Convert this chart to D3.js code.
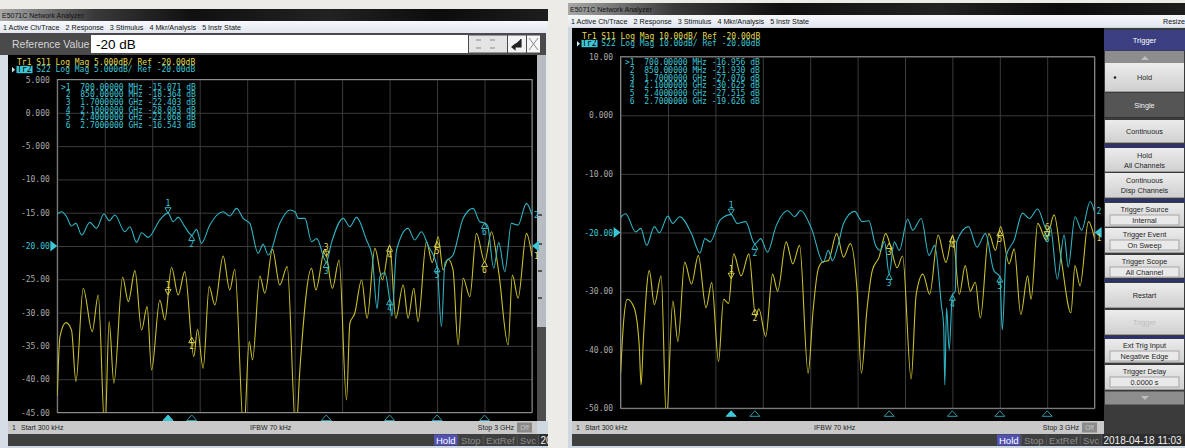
<!DOCTYPE html>
<html><head><meta charset="utf-8">
<script src="https://cdn.jsdelivr.net/npm/d3@7"></script>
<style>html,body{margin:0;padding:0;background:#e9e7e1;overflow:hidden}svg{display:block}</style>
</head><body><svg id="c" width="1185" height="448"></svg>
<script>
// ---- sweep / marker settings ----
const freqStartMHz = 0.3, freqStopMHz = 3000;
const markerFreqs = [700, 850, 1700, 2100, 2400, 2700];
const markerStim = ["700.00000 MHz", "850.00000 MHz", "1.7000000 GHz", "2.1000000 GHz", "2.4000000 GHz", "2.7000000 GHz"];
const leftMarkerDb = [-15.071, -18.364, -22.403, -28.003, -23.068, -16.543];
const rightMarkerDb = [-16.956, -21.930, -27.076, -30.625, -27.515, -19.626];

// ---- y-axis ticks ----
const leftTicks = [5, 0, -5, -10, -15, -20, -25, -30, -35, -40, -45];
const leftTickText = ["5.000", "0.000", "-5.000", "-10.00", "-15.00", "-20.00", "-25.00", "-30.00", "-35.00", "-40.00", "-45.00"];
const rightTicks = [10, 0, -10, -20, -30, -40, -50];
const rightTickText = ["10.00", "0.000", "-10.00", "-20.00", "-30.00", "-40.00", "-50.00"];

// ---- traces: [MHz, dB] ----
const leftS11 = [[0.3,-42.5],[17,-33.6],[55,-31.5],[90,-32.6],[118,-40.35],[164,-26.35],[221,-32.85],[259,-27.35],[301,-48],[328,-31.35],[358,-40.6],[413,-24.7],[449,-28.35],[491,-23.7],[533,-32.6],[568,-29.1],[596,-38.6],[648,-28.1],[680,-31.1],[722,-23.2],[764,-27.35],[806,-23.85],[863,-36.6],[886,-32.5],[922,-38.35],[960,-26.1],[996,-28.85],[1048,-21.5],[1090,-26.6],[1122,-23.5],[1179,-48],[1213,-34.35],[1234,-37.1],[1280,-24.5],[1312,-27.1],[1360,-20.5],[1406,-25.85],[1453,-23.1],[1508,-48],[1533,-38.6],[1607,-23.35],[1634,-26.6],[1691,-20.5],[1739,-26.35],[1781,-22.1],[1828,-43.1],[1849,-31.6],[1880,-30.1],[1923,-25.1],[1958,-30.85],[2007,-20.35],[2055,-25.1],[2101,-19.85],[2139,-30.85],[2186,-25.85],[2217,-30.85],[2253,-26.35],[2280,-31.35],[2333,-19.35],[2370,-22.5],[2407,-18.6],[2438,-23.6],[2470,-22.0],[2501,-23.6],[2533,-34.85],[2565,-24.85],[2607,-27.6],[2649,-18.1],[2701,-22.35],[2744,-17.85],[2790,-24.0],[2849,-34.85],[2876,-24.35],[2912,-27.85],[2965,-18.1],[3000,-21.6]];
const leftS22 = [[0.3,-15.2],[27,-14.85],[59,-15.6],[90,-17.0],[118,-16.6],[154,-18.35],[206,-16.45],[248,-17.35],[295,-15.2],[328,-16.2],[364,-15.35],[427,-17.85],[459,-17.1],[501,-19.45],[533,-18.0],[575,-18.7],[648,-16.1],[733,-16.35],[764,-15.7],[806,-17.1],[880,-17.5],[911,-19.6],[964,-16.85],[1048,-14.85],[1090,-15.5],[1133,-14.35],[1175,-15.85],[1217,-16.6],[1269,-21.1],[1301,-19.75],[1333,-21.35],[1406,-16.6],[1469,-14.6],[1502,-14.85],[1523,-15.85],[1565,-15.85],[1607,-19.35],[1640,-18.9],[1733,-19.5],[1807,-15.85],[1849,-17.1],[1891,-15.7],[1954,-19.1],[1990,-21.5],[2021,-29.4],[2040,-24.5],[2070,-24.0],[2115,-30.5],[2144,-20.6],[2217,-17.35],[2259,-19.1],[2301,-17.85],[2345,-20.0],[2428,-32.1],[2450,-22.5],[2501,-21.35],[2565,-15.85],[2628,-14.35],[2670,-16.35],[2720,-17.0],[2758,-23.35],[2790,-19.5],[2828,-23.85],[2870,-16.6],[2912,-16.85],[2965,-13.6],[3000,-15.35]];
const rightS11 = [[0.3,-44],[20,-35],[43,-31.4],[86,-32.85],[118,-39.2],[130,-46],[145,-38],[182,-26.5],[214,-32.3],[257,-27.4],[290,-52],[331,-31.7],[363,-38.6],[406,-25.05],[449,-28.8],[492,-23.9],[541,-32.85],[577,-28.55],[620,-42],[652,-31.4],[684,-32.1],[716,-23.65],[763,-27.4],[812,-23.65],[855,-34.3],[875,-33],[919,-37.75],[962,-27.1],[994,-30.0],[1048,-21.6],[1090,-25.35],[1133,-22.2],[1187,-44],[1219,-33.15],[1251,-26.2],[1280,-25],[1315,-24.8],[1368,-20.2],[1411,-24.2],[1454,-21.9],[1497,-30.0],[1524,-44],[1560,-33],[1593,-26.5],[1636,-24.2],[1678,-20.2],[1710,-22.5],[1750,-26],[1785,-24],[1839,-45],[1871,-30.55],[1914,-27.1],[1956,-30.55],[2010,-20.45],[2059,-25.1],[2102,-20.45],[2144,-30.55],[2181,-25.65],[2213,-30.0],[2245,-28.5],[2277,-34.6],[2331,-20.2],[2373,-23.05],[2405,-19.0],[2459,-25.35],[2491,-22.8],[2533,-34.0],[2576,-27.4],[2598,-31.4],[2640,-18.45],[2694,-21.3],[2744,-17.0],[2790,-24.8],[2850,-33.7],[2876,-25.65],[2908,-29.1],[2961,-18.15],[3000,-21.05]];
const rightS22 = [[0.3,-17.4],[32,-16.8],[96,-19.9],[128,-19.3],[165,-22.2],[214,-19.0],[246,-20.05],[299,-17.2],[331,-18.45],[374,-17.3],[449,-20.2],[502,-23.5],[534,-21.05],[567,-21.6],[631,-17.85],[738,-18.45],[791,-18.15],[887,-21.05],[930,-23.35],[983,-19.0],[1058,-16.3],[1101,-17.3],[1140,-16.25],[1208,-19.3],[1283,-25.1],[1315,-23.05],[1341,-24.8],[1379,-21.9],[1411,-18.45],[1482,-16.4],[1529,-18.15],[1571,-18.0],[1614,-22.2],[1646,-23.05],[1670,-21.5],[1712,-29],[1732,-21.6],[1764,-23.05],[1817,-17.75],[1849,-19.6],[1903,-17.6],[1952,-23.9],[1988,-22.2],[2031,-32.55],[2045,-36],[2052,-46],[2063,-32.85],[2080,-40],[2090,-35],[2106,-52],[2118,-30],[2127,-21.6],[2202,-19.0],[2256,-22.5],[2309,-20.2],[2362,-26.5],[2416,-36.6],[2440,-24],[2491,-21.3],[2544,-16.7],[2587,-17.6],[2640,-16.0],[2720,-19],[2764,-27.95],[2807,-20.45],[2833,-25.9],[2876,-17.3],[2918,-19.6],[2972,-14.7],[3000,-16.5]];

// ---- UI text ----
const menuItems = ["1 Active Ch/Trace", "2 Response", "3 Stimulus", "4 Mkr/Analysis", "5 Instr State"];
const statusItems = ["Hold", "Stop", "ExtRef", "Svc"];
const dateText = "2018-04-18 11:03";
const softkeys = [
  {lines: ["Hold"], style: "sel"},
  {lines: ["Single"], style: "dark"},
  {lines: ["Continuous"]},
  {lines: ["Hold", "All Channels"]},
  {lines: ["Continuous", "Disp Channels"]},
  {lines: ["Trigger Source"], value: "Internal"},
  {lines: ["Trigger Event"], value: "On Sweep"},
  {lines: ["Trigger Scope"], value: "All Channel"},
  {lines: ["Restart"]},
  {lines: ["Trigger"], style: "disabled"},
  {lines: ["Ext Trig Input"], value: "Negative Edge"},
  {lines: ["Trigger Delay"], value: "0.0000 s"}
];

const CYAN = "#2fb3c4", CYAN_TXT = "#3cc6d6", YEL = "#c9c02a", YEL_TXT = "#e4dc50";
const MONO = "'DejaVu Sans Mono','Liberation Mono',monospace";
const SANS = "'Liberation Sans',Arial,sans-serif";

const svg = d3.select("#c");
const defs = svg.append("defs");
function grad(id, stops, vertical) {
  const lg = defs.append("linearGradient").attr("id", id)
    .attr("x1", 0).attr("y1", 0).attr("x2", vertical ? 0 : 1).attr("y2", vertical ? 1 : 0);
  stops.forEach(s => lg.append("stop").attr("offset", s[0]).attr("stop-color", s[1]));
}
grad("titleG", [[0, "#a9a9a9"], [0.17, "#3a3a3a"], [0.35, "#101010"], [0.6, "#222"], [0.8, "#0c0c0c"], [1, "#1d1d1d"]]);
grad("menuG", [[0, "#f6f8fb"], [1, "#e2e7ef"]], true);
grad("btnG", [[0, "#ececec"], [1, "#cfcfcf"]], true);

function rect(g, x, y, w, h, fill, stroke) {
  const r = g.append("rect").attr("x", x).attr("y", y).attr("width", w).attr("height", h).attr("fill", fill);
  if (stroke) r.attr("stroke", stroke).attr("stroke-width", 1);
  return r;
}
function txt(g, x, y, s, o = {}) {
  return g.append("text").attr("x", x).attr("y", y).text(s)
    .attr("font-family", o.ff || SANS).attr("font-size", o.fs || 8)
    .attr("fill", o.fill || "#000").attr("text-anchor", o.anchor || "start")
    .attr("dominant-baseline", "central").attr("font-weight", o.fw || "normal")
    .style("white-space", "pre");
}

rect(svg, 0, 0, 1185, 448, "#ecebe5");

// merge the marker readouts into the trace they belong to
function withMarkers(trace, dbs) {
  const pts = trace.filter(p => markerFreqs.every(f => Math.abs(p[0] - f) > 12));
  markerFreqs.forEach((f, i) => pts.push([f, dbs[i]]));
  return pts.sort((a, b) => a[0] - b[0]);
}
function valueAt(trace, f) {
  const i = d3.bisector(d => d[0]).left(trace, f);
  if (i <= 0) return trace[0][1];
  const a = trace[i - 1], b = trace[i];
  return a[1] + (b[1] - a[1]) * (f - a[0]) / (b[0] - a[0]);
}

// ---------- one measurement display ----------
function drawPlot(P) {
  const g = svg.append("g");
  const x = d3.scaleLinear().domain([freqStartMHz, freqStopMHz]).range([P.x0, P.x1]);
  const y = d3.scaleLinear().domain([P.ticks[P.ticks.length - 1], P.ticks[0]]).range([P.y1, P.y0]);

  // header lines
  txt(g, P.hx, P.hy, "Tr1 S11 Log Mag " + P.scaleText + "/ Ref -20.00dB", {ff: MONO, fs: 8, fill: YEL_TXT});
  g.append("path").attr("d", `M${P.hx - 5},${P.hy + 5}l3,2.7l-3,2.7z`).attr("fill", "#bfeff5");
  rect(g, P.hx - 0.5, P.hy + 3.8, 16, 7.4, CYAN_TXT);
  txt(g, P.hx, P.hy + 7.6, "Tr2", {ff: MONO, fs: 8, fill: "#000"});
  txt(g, P.hx + 4 * 4.82, P.hy + 7.6, "S22 Log Mag " + P.scaleText + "/ Ref -20.00dB", {ff: MONO, fs: 8, fill: CYAN_TXT});

  // grid through axes
  const yAx = g.append("g").attr("transform", `translate(${P.x0},0)`)
    .call(d3.axisLeft(y).tickValues(P.ticks).tickSize(-(P.x1 - P.x0)).tickPadding(7.5)
      .tickFormat((d, i) => P.tickText[i]));
  yAx.select(".domain").remove();
  yAx.selectAll("line").attr("stroke", "#3b3b3b");
  yAx.selectAll("text").attr("font-family", MONO).attr("font-size", 8)
    .attr("fill", d => d === -20 ? CYAN_TXT : "#a9a9a9");
  const vTicks = d3.range(11).map(i => freqStartMHz + (freqStopMHz - freqStartMHz) * i / 10);
  const xAx = g.append("g").attr("transform", `translate(0,${P.y1})`)
    .call(d3.axisBottom(x).tickValues(vTicks).tickSize(-(P.y1 - P.y0)).tickFormat(""));
  xAx.select(".domain").remove();
  xAx.selectAll("line").attr("stroke", "#3b3b3b");
  rect(g, P.x0, P.y0, P.x1 - P.x0, P.y1 - P.y0, "none", "#8e8e8e");

  // reference level arrows
  const yr = y(-20);
  g.append("path").attr("d", `M${P.x0 - 7},${yr - 5.5}L${P.x0},${yr}L${P.x0 - 7},${yr + 5.5}Z`).attr("fill", CYAN_TXT);
  g.append("path").attr("d", `M${P.x1 + 7},${yr - 5.5}L${P.x1},${yr}L${P.x1 + 7},${yr + 5.5}Z`).attr("fill", CYAN_TXT);

  // traces
  const clipId = "clip" + P.id;
  defs.append("clipPath").attr("id", clipId).append("rect")
    .attr("x", P.x0).attr("y", P.y0).attr("width", P.x1 - P.x0).attr("height", P.y1 - P.y0);
  const line = d3.line().x(d => x(d[0])).y(d => y(d[1])).curve(d3.curveMonotoneX);
  const s22 = withMarkers(P.s22, P.mkDb);
  const tg = g.append("g").attr("clip-path", `url(#${clipId})`);
  tg.append("path").datum(P.s11).attr("d", line).attr("fill", "none").attr("stroke", YEL).attr("stroke-width", 1.1);
  tg.append("path").datum(s22).attr("d", line).attr("fill", "none").attr("stroke", CYAN).attr("stroke-width", 1.1);

  // trace end labels
  txt(g, P.x1 + 2, y(P.s11[P.s11.length - 1][1]), "1", {ff: MONO, fs: 8, fill: YEL_TXT});
  txt(g, P.x1 + 2, y(s22[s22.length - 1][1]), "2", {ff: MONO, fs: 8, fill: CYAN_TXT});

  // markers on traces: the active marker sits above its point, the others hang below
  markerFreqs.forEach((f, i) => {
    const px = x(f);
    const cyV = y(P.mkDb[i]);
    const yeV = y(valueAt(P.s11, f));
    const above = i === 0;
    const cyLab = above ? cyV - 9.5 : cyV + 9.5;
    let yeAbove = above;
    let yeLab = yeAbove ? yeV - 9.5 : yeV + 9.5;
    if (Math.abs(yeLab - cyLab) < 9) { yeAbove = !yeAbove; yeLab = yeAbove ? yeV - 9.5 : yeV + 9.5; }
    [[cyV, above, cyLab, CYAN_TXT], [yeV, yeAbove, yeLab, YEL_TXT]].forEach(([py, up, ly, col]) => {
      const d = up ? `M${px},${py}l-3,-5.5h6z` : `M${px},${py}l-3,5.5h6z`;
      g.append("path").attr("d", d).attr("fill", "none").attr("stroke", col).attr("stroke-width", 0.9);
      txt(g, px, ly, String(i + 1), {ff: MONO, fs: 8, fill: col, anchor: "middle"});
    });
    // stimulus markers beneath the grid
    const by = P.y1 + 2.5;
    g.append("path").attr("d", `M${px},${by}l-5,5.5h10z`)
      .attr("fill", i === 0 ? CYAN_TXT : "none").attr("stroke", i === 0 ? CYAN_TXT : "#2a9aa8").attr("stroke-width", 1);
  });

  // marker readout table
  markerStim.forEach((s, i) => {
    const ry = P.ty + i * 7.67;
    const tag = (i === 0 ? ">" : " ") + (i + 1);
    txt(g, P.tx, ry, tag + "  " + s + " " + P.mkDb[i].toFixed(3) + " dB", {ff: MONO, fs: 8, fill: CYAN_TXT});
  });
}

// ---------- window chrome ----------
function chrome(W) {
  const g = svg.append("g");
  rect(g, W.x0, W.top, W.x1 - W.x0, 448 - W.top, "#cfd7e1");
  rect(g, W.x0, W.top, W.x1 - W.x0, 12, "url(#titleG)");
  txt(g, W.x0 + 2, W.top + 6, "E5071C Network Analyzer", {fs: 7, fill: "#111"});
  rect(g, W.x0, W.top + 12, W.x1 - W.x0, 12, "url(#menuG)");
  let mx = W.x0 + 3;
  menuItems.forEach(m => {
    const t = txt(g, mx, W.top + 18.5, m, {fs: 7.2, fill: "#111"});
    mx += t.node().getComputedTextLength() + 6;
  });
  if (W.resize) txt(g, 1185, W.top + 18.5, "Resize", {fs: 7.2, fill: "#111", anchor: "end"});
  rect(g, W.dx0, W.dy0, W.dx1 - W.dx0, 421 - W.dy0, "#000");

  // sweep status bar
  rect(g, W.dx0, 421, W.dx1 - W.dx0, 13, "#c9c9c9");
  txt(g, W.dx0 + 4, 427.5, "1", {fs: 7, fill: "#222"});
  txt(g, W.dx0 + 13, 427.5, "Start 300 kHz", {fs: 7, fill: "#222"});
  txt(g, W.ifbwX, 427.5, "IFBW 70 kHz", {fs: 7, fill: "#222"});
  txt(g, W.stopX, 427.5, "Stop 3 GHz", {fs: 7, fill: "#222", anchor: "end"});
  rect(g, W.stopX + 3, 422.5, 15, 10, "#8a8a8a");
  txt(g, W.stopX + 10.5, 427.5, "Off", {fs: 6.5, fill: "#c8c8c8", anchor: "middle"});

  // instrument status bar
  const clipId = "clipBar" + W.id;
  defs.append("clipPath").attr("id", clipId).append("rect").attr("x", W.x0).attr("y", 434).attr("width", W.x1 - W.x0).attr("height", 14);
  const sb = g.append("g").attr("clip-path", `url(#${clipId})`);
  rect(sb, W.dx0, 434, W.x1 - W.dx0, 12, "#3f3f3f");
  let sx = W.holdX;
  statusItems.forEach((s, i) => {
    const t = txt(sb, sx + 2, 440, s, {fs: 9.5, fill: i === 0 ? "#fff" : "#8c8c8c"});
    const w = t.node().getComputedTextLength() + 4;
    if (i === 0) { sb.insert("rect", "text").attr("x", sx).attr("y", 434.5).attr("width", w).attr("height", 11).attr("fill", "#5252b4"); }
    sx += w + 1.5;
    sb.append("line").attr("x1", sx - 0.8).attr("x2", sx - 0.8).attr("y1", 435).attr("y2", 445).attr("stroke", "#555");
  });
  rect(sb, sx, 434, 90, 12, "#2e2e2e");
  txt(sb, sx + 1, 440, dateText, {fs: 10, fill: "#f2f2f2"});
  return g;
}

// left analyzer window
chrome({id: "L", x0: 0, x1: 548, top: 9, dx0: 8, dx1: 537, dy0: 55, ifbwX: 250, stopX: 514, holdX: 434});
// reference value entry bar and window edges
(function () {
  const g = svg.append("g");
  rect(g, 0, 33, 548, 22, "#4a4a4a");
  txt(g, 12, 44, "Reference Value", {fs: 10.5, fill: "#d5d5d5"});
  rect(g, 91, 35, 377, 18, "#fff");
  txt(g, 96, 44.5, "-20 dB", {fs: 13.5, fill: "#000"});
  rect(g, 469, 35.5, 38, 17, "#e4e4e4");
  g.append("path").attr("d", "M476,40h5M476,48h5M490,40h5M490,48h5").attr("stroke", "#888");
  rect(g, 508, 35.5, 18, 17, "#f3f3f3");
  g.append("path").attr("d", "M521,39v8h-9M512,47l3,-2.5v5z").attr("stroke", "#222").attr("fill", "#222").attr("stroke-width", 1.2);
  rect(g, 527, 35.5, 13, 17, "#f6f6f6");
  g.append("path").attr("d", "M529,38l9,12M538,38l-9,12").attr("stroke", "#888").attr("stroke-width", 1);
  rect(g, 537, 55, 11, 366, "#b7bcc3");
  rect(g, 546, 33, 2, 388, "#e7ebf0");
  [214, 243, 270, 297].forEach(v => rect(g, 538, v, 4, 2, "#555"));
  rect(g, 537, 327, 9, 94, "#4d4d4d");
  rect(g, 0, 55, 8, 393, "#d6dde6");
  rect(g, 548, 0, 20, 448, "#ecebe5");
})();

// right analyzer window
chrome({id: "R", x0: 568, x1: 1185, top: 3, dx0: 572, dx1: 1104, dy0: 28, ifbwX: 814, stopX: 1079, holdX: 997, resize: true});

drawPlot({id: "L", x0: 57.3, x1: 532, y0: 79.5, y1: 412.5, ticks: leftTicks, tickText: leftTickText,
  scaleText: "5.000dB", hx: 17, hy: 62, tx: 61, ty: 87.3, s11: leftS11, s22: leftS22, mkDb: leftMarkerDb});
drawPlot({id: "R", x0: 620.6, x1: 1094.6, y0: 56.7, y1: 408.3, ticks: rightTicks, tickText: rightTickText,
  scaleText: "10.00dB", hx: 582, hy: 36, tx: 625, ty: 62.7, s11: rightS11, s22: rightS22, mkDb: rightMarkerDb});

// trigger softkey panel
(function () {
  const g = svg.append("g");
  const X = 1104, Wd = 81;
  rect(g, X, 28, Wd, 406, "#3b3b3b");
  rect(g, X, 30, Wd, 20.5, "#3b3f82");
  txt(g, X + Wd / 2, 40, "Trigger", {fs: 7.5, fill: "#fff", anchor: "middle"});
  rect(g, X + 1, 51, Wd - 2, 12, "#8d8d8d");
  g.append("path").attr("d", `M${X + 37},60l4,-4l4,4z`).attr("fill", "#bdbdbd");
  const spans = [[63, 92], [93, 118], [120, 143], [148, 172], [173, 198], [203, 227], [228, 253], [255, 278], [283, 308], [310, 335], [339, 363], [365, 390]];
  [[144.5, 147.5], [199, 202], [279, 282], [336, 338.5]].forEach(s => rect(g, X, s[0], Wd, s[1] - s[0], "#2c3270"));
  softkeys.forEach((k, i) => {
    const [t, b] = spans[i];
    const dark = k.style === "dark";
    rect(g, X + 1, t, Wd - 2, b - t, dark ? "#555" : "url(#btnG)");
    g.append("line").attr("x1", X + 1).attr("x2", X + Wd - 1).attr("y1", b - 0.5).attr("y2", b - 0.5).attr("stroke", dark ? "#333" : "#9c9c9c");
    const col = dark ? "#f4f4f4" : k.style === "disabled" ? "#bdbdbd" : "#1e1e1e";
    const cy = (t + b) / 2;
    if (k.value) {
      txt(g, X + Wd / 2, t + 6.5, k.lines[0], {fs: 7.3, fill: col, anchor: "middle"});
      rect(g, X + 6, t + 12, Wd - 12, 10, "#e9e9e9", "#a5a5a5");
      txt(g, X + Wd / 2, t + 17.2, k.value, {fs: 7.3, fill: col, anchor: "middle"});
    } else if (k.lines.length === 2) {
      txt(g, X + Wd / 2, cy - 5, k.lines[0], {fs: 7.3, fill: col, anchor: "middle"});
      txt(g, X + Wd / 2, cy + 5, k.lines[1], {fs: 7.3, fill: col, anchor: "middle"});
    } else {
      txt(g, X + Wd / 2, cy, k.lines[0], {fs: 7.3, fill: col, anchor: "middle"});
    }
    if (k.style === "sel") g.append("circle").attr("cx", X + 11).attr("cy", cy).attr("r", 1.3).attr("fill", "#222");
  });
  rect(g, X + 1, 391.5, Wd - 2, 13, "#8d8d8d");
  g.append("path").attr("d", `M${X + 37},396l4,4l4,-4z`).attr("fill", "#bdbdbd");
})();
</script></body></html>
